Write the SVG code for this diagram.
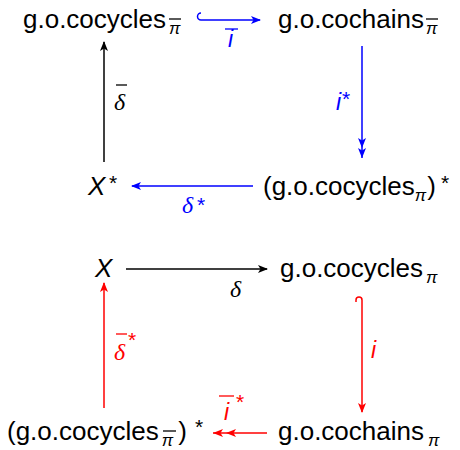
<svg xmlns="http://www.w3.org/2000/svg" width="460" height="450" viewBox="0 0 460 450">
<defs>
<style>
.t{font-family:"Liberation Sans",Arial,sans-serif;font-size:26px;fill:#000}
.sub{font-family:"Liberation Sans",Arial,sans-serif;font-size:17px;font-style:italic}
.sup{font-family:"Liberation Sans",Arial,sans-serif;font-size:21px}
.mi{font-family:"Liberation Sans",Arial,sans-serif;font-style:italic;font-size:23px}
.md{font-family:"Liberation Serif","Times New Roman",serif;font-style:italic;font-size:24px}
.k{stroke:#000;stroke-width:1.5;fill:none}
.b{stroke:#0000ff;stroke-width:1.5;fill:none}
.r{stroke:#ff0000;stroke-width:1.5;fill:none}
.bar{stroke-width:1.3}
</style>
<marker id="hk" viewBox="0 0 10 8" refX="9" refY="4" markerWidth="10" markerHeight="8" markerUnits="userSpaceOnUse" orient="auto"><path d="M0,0 L10,4 L0,8 L2.5,4 Z" fill="#000"/></marker>
<marker id="hb" viewBox="0 0 10 8" refX="9" refY="4" markerWidth="10" markerHeight="8" markerUnits="userSpaceOnUse" orient="auto"><path d="M0,0 L10,4 L0,8 L2.5,4 Z" fill="#0000ff"/></marker>
<marker id="hb2" viewBox="0 0 21 8" refX="20" refY="4" markerWidth="21" markerHeight="8" markerUnits="userSpaceOnUse" orient="auto"><path d="M0,0 L10,4 L0,8 L2.5,4 Z M10,0 L20,4 L10,8 L12.5,4 Z" fill="#0000ff"/></marker>
<marker id="hr" viewBox="0 0 10 8" refX="9" refY="4" markerWidth="10" markerHeight="8" markerUnits="userSpaceOnUse" orient="auto"><path d="M0,0 L10,4 L0,8 L2.5,4 Z" fill="#ff0000"/></marker>
<marker id="hr2" viewBox="0 0 24 8" refX="23" refY="4" markerWidth="24" markerHeight="8" markerUnits="userSpaceOnUse" orient="auto"><path d="M0,0 L10,4 L0,8 L2.5,4 Z M13,0 L23,4 L13,8 L15.5,4 Z" fill="#ff0000"/></marker>
</defs>
<rect width="460" height="450" fill="#fff"/>

<g id="n-cocycles-pibar">
<text class="t" x="23" y="28">g.o.cocycles</text>
<text class="sub" x="169" y="34">π</text>
<line x1="169" y1="19" x2="181" y2="19" stroke="#000" class="bar"/>
</g>
<g id="n-cochains-pibar">
<text class="t" x="278" y="28">g.o.cochains</text>
<text class="sub" x="426" y="34">π</text>
<line x1="426" y1="19" x2="438" y2="19" stroke="#000" class="bar"/>
</g>
<g id="n-Xstar">
<text class="t" x="88" y="195" font-style="italic">X</text>
<text class="sup" x="109" y="190">*</text>
</g>
<g id="n-cocycles-pi-dual">
<text class="t" x="263" y="195">(g.o.cocycles<tspan class="sub" dy="6">π</tspan><tspan dy="-6" dx="1">)</tspan></text>
<text class="sup" x="441" y="190">*</text>
</g>
<g id="n-X">
<text class="t" x="95" y="277" font-style="italic">X</text>
</g>
<g id="n-cocycles-pi">
<text class="t" x="280" y="277">g.o.cocycles</text>
<text class="sub" x="426" y="283">π</text>
</g>
<g id="n-cocycles-pibar-dual">
<text class="t" x="7" y="440">(g.o.cocycles<tspan class="sub" dy="6" dx="3">π</tspan><tspan dy="-6" dx="5">)</tspan></text>
<line x1="163" y1="431" x2="176" y2="431" stroke="#000" class="bar"/>
<text class="sup" x="195" y="434">*</text>
</g>
<g id="n-cochains-pi">
<text class="t" x="278" y="440">g.o.cochains</text>
<text class="sub" x="428" y="446">π</text>
</g>

<g id="connectors">
<path class="b" d="M201,20 L260,20" marker-end="url(#hb)"/>
<path class="b" d="M201,20 A3.5,3.5 0 0 1 201,13"/>
<text class="mi" x="228" y="47" fill="#0000ff">i</text>
<line x1="225" y1="29" x2="238" y2="29" stroke="#0000ff" class="bar"/>
<path class="b" d="M362,46 L362,158" marker-end="url(#hb2)"/>
<text class="mi" x="336" y="110" fill="#0000ff">i</text>
<text class="sup" x="342" y="106" fill="#0000ff">*</text>
<path class="b" d="M253,186 L132,186" marker-end="url(#hb)"/>
<text class="md" x="182" y="213" fill="#0000ff">δ</text>
<text class="sup" x="197" y="212" fill="#0000ff">*</text>
<path class="k" d="M104,162 L104,42" marker-end="url(#hk)"/>
<text class="md" x="114" y="110" fill="#000">δ</text>
<line x1="116" y1="85" x2="127" y2="85" stroke="#000" class="bar"/>
<path class="k" d="M126,269 L267,269" marker-end="url(#hk)"/>
<text class="md" x="230" y="297" fill="#000">δ</text>
<path class="r" d="M362,300 L362,412" marker-end="url(#hr)"/>
<path class="r" d="M362,300 A3,3 0 0 0 356,300 L356,302"/>
<text class="mi" x="371" y="358" fill="#ff0000">i</text>
<path class="r" d="M104,408 L104,283" marker-end="url(#hr)"/>
<text class="md" x="114" y="360" fill="#ff0000">δ</text>
<line x1="116" y1="334" x2="127" y2="334" stroke="#ff0000" class="bar"/>
<text class="sup" x="128" y="347" fill="#ff0000">*</text>
<path class="r" d="M267,433 L213,433" marker-end="url(#hr2)"/>
<text class="mi" x="224" y="420" fill="#ff0000">i</text>
<line x1="219" y1="396" x2="234" y2="396" stroke="#ff0000" class="bar"/>
<text class="sup" x="236" y="409" fill="#ff0000">*</text>
</g>
</svg>
